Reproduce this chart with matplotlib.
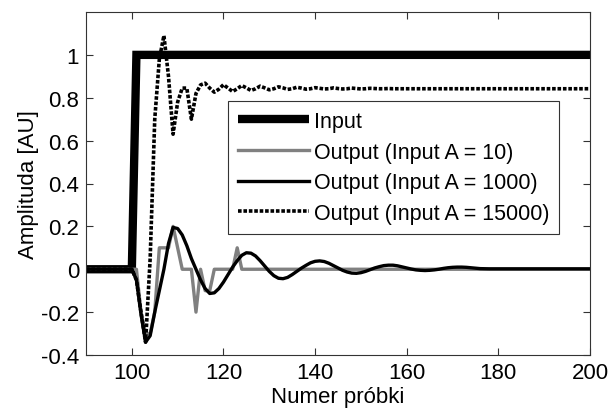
import matplotlib
matplotlib.use("Agg")
import matplotlib.pyplot as plt

plt.rcParams['font.family'] = ['Liberation Sans', 'DejaVu Sans']

# Input step
x_input = [90, 100, 101, 200]
y_input = [0.0, 0.0, 1.0, 1.0]

# Output (Input A = 10) - quantized, gray
x_a10 = [90, 100, 101, 102, 103, 104, 105, 106, 107, 108, 109, 110, 111, 112, 113,
         114, 115, 116, 117, 118, 122, 123, 124, 200]
y_a10 = [0.0, 0.0, 0.0, -0.2, -0.3, -0.3, -0.2, 0.1, 0.1, 0.1, 0.2, 0.1, 0.0, 0.0, 0.0,
         -0.2, 0.0, -0.1, -0.1, 0.0, 0.0, 0.1, 0.0, 0.0]

# Output (Input A = 1000) - black solid
x_a1000 = [90, 100, 101, 102, 103, 104, 105, 106, 107, 108, 109, 110, 111, 112, 113, 114,
           115, 116, 117, 118, 119, 120, 121, 122, 123, 124, 125, 126, 127, 128, 129, 130,
           131, 132, 133, 134, 135, 136, 137, 138, 139, 140, 141, 142, 143, 144, 145, 146,
           147, 148, 149, 150, 151, 152, 153, 154, 155, 156, 157, 158, 159, 160, 161, 162,
           163, 164, 165, 166, 167, 168, 169, 170, 171, 172, 173, 174, 175, 176, 178, 180,
           200]
y_a1000 = [0.0, 0.0, -0.05, -0.21, -0.34, -0.31, -0.2, -0.1, 0.0, 0.12, 0.195, 0.19, 0.16,
           0.11, 0.05, 0.0, -0.05, -0.09, -0.113, -0.11, -0.09, -0.06, -0.025, 0.01, 0.04,
           0.065, 0.077, 0.075, 0.062, 0.04, 0.015, -0.01, -0.03, -0.042, -0.044, -0.038,
           -0.025, -0.01, 0.005, 0.018, 0.03, 0.037, 0.039, 0.036, 0.028, 0.017, 0.006,
           -0.005, -0.013, -0.018, -0.019, -0.016, -0.01, -0.002, 0.006, 0.012, 0.017,
           0.019, 0.019, 0.016, 0.011, 0.006, 0.001, -0.003, -0.005, -0.006, -0.005,
           -0.003, 0.0, 0.004, 0.007, 0.009, 0.01, 0.01, 0.009, 0.007, 0.005, 0.003,
           0.002, 0.002, 0.002]

# Output (Input A = 15000) - dotted
x_a15000 = [90, 100, 101, 102, 103, 104, 105, 106, 107, 108, 109, 110, 111, 112, 113, 114,
            115, 116, 117, 118, 119, 120, 121, 122, 123, 124, 125, 126, 127, 128, 129, 130,
            131, 132, 133, 134, 135, 136, 137, 138, 139, 140, 141, 142, 143, 144, 145, 146,
            147, 148, 149, 150, 151, 152, 153, 154, 155, 156, 157, 158, 160, 200]
y_a15000 = [0.0, 0.0, -0.05, -0.2, -0.34, 0.05, 0.7, 0.98, 1.09, 0.9, 0.63, 0.78, 0.845,
            0.845, 0.70, 0.82, 0.86, 0.868, 0.845, 0.826, 0.84, 0.861, 0.845, 0.829, 0.842,
            0.857, 0.846, 0.834, 0.842, 0.854, 0.846, 0.837, 0.842, 0.851, 0.846, 0.839,
            0.842, 0.849, 0.845, 0.840, 0.842, 0.847, 0.844, 0.841, 0.842, 0.846, 0.843,
            0.841, 0.842, 0.845, 0.843, 0.841, 0.842, 0.844, 0.843, 0.842, 0.842, 0.843,
            0.842, 0.842, 0.842, 0.842]

x_ticks = [100, 120, 140, 160, 180, 200]
y_ticks = [-0.4, -0.2, 0, 0.2, 0.4, 0.6, 0.8, 1]
y_tick_labels = ['-0.4', '-0.2', '0', '0.2', '0.4', '0.6', '0.8', '1']

labels = ['Input', 'Output (Input A = 10)', 'Output (Input A = 1000)',
          'Output (Input A = 15000)']

fig = plt.figure(figsize=(6.14, 4.10), dpi=100)
ax = fig.add_axes([0.1401, 0.1317, 0.8208, 0.8366])

ax.plot(x_input, y_input, color='black', lw=6, solid_capstyle='butt',
        solid_joinstyle='miter', label=labels[0])
ax.plot(x_a10, y_a10, color='#808080', lw=2.4, label=labels[1])
ax.plot(x_a1000, y_a1000, color='black', lw=2.4, label=labels[2])
ax.plot(x_a15000, y_a15000, color='black', lw=2.6, linestyle=(0, (1.0, 0.5)),
        dash_capstyle='butt', label=labels[3])

ax.set_xlim(90, 200)
ax.set_ylim(-0.4, 1.2)
ax.set_xticks(x_ticks)
ax.set_yticks(y_ticks)
ax.set_yticklabels(y_tick_labels)
ax.tick_params(direction='in', length=5, width=0.8, top=True, right=True,
               labelsize=16, pad=5, color='#333333')
for s in ax.spines.values():
    s.set_linewidth(0.8)
    s.set_color('#333333')

ax.set_xlabel('Numer próbki', fontsize=16, labelpad=2)
ax.set_ylabel('Amplituda [AU]', fontsize=16, labelpad=1)

leg = ax.legend(loc='upper left', bbox_to_anchor=(0.282, 0.740), fontsize=15.5,
                handlelength=3.3, handletextpad=0.25, labelspacing=0.45,
                borderpad=0.45, borderaxespad=0.0, fancybox=False, framealpha=1,
                edgecolor='#333333')
leg.get_frame().set_linewidth(0.8)

fig.savefig('out.png', dpi=100)
